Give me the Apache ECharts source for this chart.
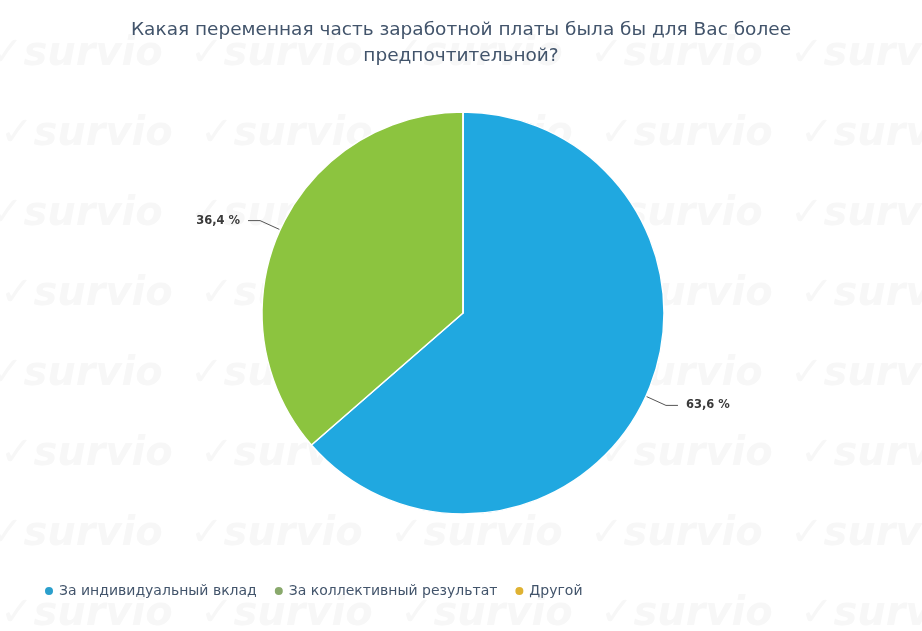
<!DOCTYPE html>
<html>
<head>
<meta charset="utf-8">
<script src="https://cdn.jsdelivr.net/npm/echarts@6/dist/echarts.min.js"></script>
<style>
html,body{margin:0;padding:0;background:#fff;}
#chart{width:922px;height:631px;}
</style>
</head>
<body>
<div id="chart"></div>
<script>
const titleText = 'Какая переменная часть заработной платы была бы для Вас более\nпредпочтительной?';
const categories = ['За индивидуальный вклад', 'За коллективный результат', 'Другой'];
const values = [63.6, 36.4, 0];
const colors = ['#20a8e0', '#8cc43f', '#e8b630'];
const legendColors = ['#2b9fcc', '#89a96c', '#dfb232'];

const chart = echarts.init(document.getElementById('chart'));
const data = categories.map((c, i) => ({
  name: c, value: values[i], itemStyle: { color: colors[i] },
  label: { show: values[i] > 0 }, labelLine: { show: values[i] > 0 }
}));

// faint background watermark
const wm = [];
const wmCols = [-10, 190, 390, 590, 790];
const wmRows = [35, 115, 195, 275, 355, 435, 515, 595];
wmRows.forEach((y, ri) => wmCols.forEach(x => {
  wm.push({ type: 'text', silent: true, z: -10, left: x + (ri % 2 ? 10 : 0), top: y,
    style: { text: '✓survio', font: 'italic bold 40px DejaVu Sans', fill: '#f7f7f7' } });
}));

chart.setOption({
  backgroundColor: '#ffffff',
  graphic: wm,
  title: {
    text: titleText,
    left: 'center',
    top: 12,
    textStyle: { fontFamily: 'DejaVu Sans', fontSize: 18.5, fontWeight: 'normal', color: '#42546b', lineHeight: 26, align: 'center' }
  },
  legend: {
    bottom: 28,
    left: 38,
    icon: 'circle',
    itemWidth: 10,
    itemHeight: 10,
    itemGap: 16,
    textStyle: { fontFamily: 'DejaVu Sans', fontSize: 14, color: '#42546b' },
    data: categories.map((c, i) => ({ name: c, itemStyle: { color: legendColors[i] } }))
  },
  series: [{
    type: 'pie',
    center: [463, 313],
    radius: [0, 201],
    startAngle: 90,
    clockwise: true,
    data: data,
    itemStyle: { borderColor: '#ffffff', borderWidth: 1.5 },
    label: {
      formatter: p => p.value.toFixed(1).replace('.', ',') + ' %',
      fontFamily: 'DejaVu Sans',
      fontSize: 11.5,
      fontWeight: 'bold',
      color: '#3a3a3a',
      distanceToLabelLine: 8
    },
    labelLine: {
      length: 22,
      length2: 12,
      lineStyle: { color: '#555', width: 1 }
    },
    emphasis: { disabled: true }
  }]
});
</script>
</body>
</html>
